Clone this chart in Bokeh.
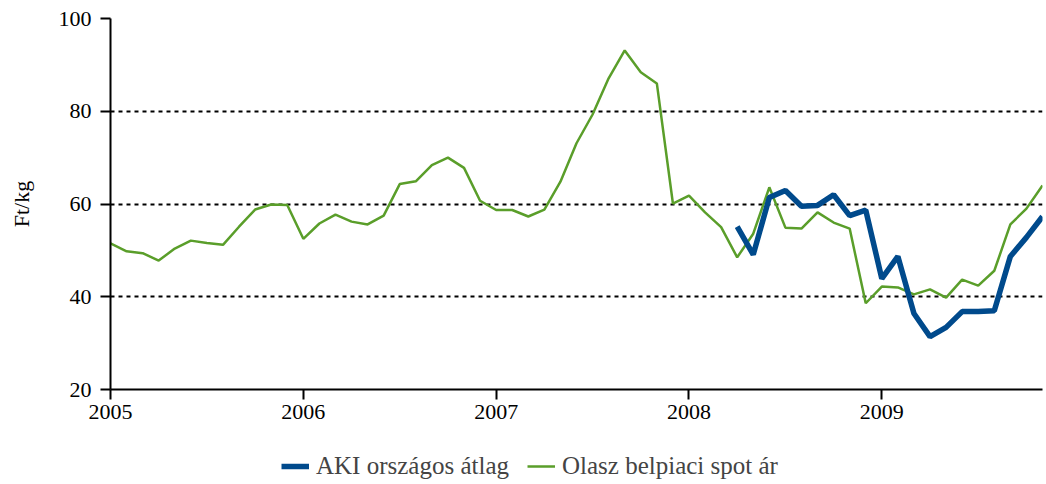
from bokeh.plotting import figure
from bokeh.layouts import column
from bokeh.models import Range1d, FixedTicker, Legend, LegendItem
from bokeh.embed import file_html
from bokeh.resources import INLINE

start_year = 2005
# monthly, Jan 2005 .. Nov 2009
green_vals = [51.5, 49.8, 49.4, 47.8, 50.4, 52.1, 51.6, 51.2, 55.1, 58.8, 59.9, 59.8,
              52.5, 55.8, 57.7, 56.2, 55.6, 57.5, 64.3, 64.9, 68.4, 70.0, 67.8, 60.7,
              58.7, 58.7, 57.3, 58.8, 64.8, 73.1, 79.3, 87.1, 93.1, 88.4, 86.0, 60.1,
              61.8, 58.2, 55.0, 48.5, 53.6, 63.6, 54.9, 54.7, 58.2, 56.0, 54.7, 38.6,
              42.2, 42.0, 40.5, 41.6, 39.8, 43.7, 42.4, 45.6, 55.6, 59.0, 64.0]
blue_start_index = 39  # Apr 2008
blue_vals = [55.1, 49.1, 61.4, 62.9, 59.5, 59.7, 62.0, 57.5, 58.7, 43.9,
             48.7, 36.4, 31.4, 33.4, 36.8, 36.8, 37.0, 48.7, 52.8, 57.3]
year_ticks = [2005, 2006, 2007, 2008, 2009]
y_ticks = [20, 40, 60, 80, 100]
series_names = ["AKI országos átlag", "Olasz belpiaci spot ár"]

green_x = [start_year + i / 12 for i in range(len(green_vals))]
blue_x = [start_year + (blue_start_index + i) / 12 for i in range(len(blue_vals))]

FONT = "Liberation Serif"
BLUE = "#004a8c"
GREEN = "#5a9e2a"
GREEN_W = 2.5
BLUE_W = 5.5

p = figure(width=1046, height=432, output_backend="svg", toolbar_location=None,
           x_range=Range1d(start_year, green_x[-1]), y_range=Range1d(20, 100),
           min_border_left=110, min_border_right=4, min_border_top=18,
           min_border_bottom=43)
p.outline_line_color = None
p.background_fill_color = "white"

p.xgrid.grid_line_color = None
p.ygrid.grid_line_color = "black"
p.ygrid.grid_line_width = 2
p.ygrid.grid_line_dash = "4 4"

p.xaxis.ticker = FixedTicker(ticks=year_ticks)
p.yaxis.ticker = FixedTicker(ticks=y_ticks)
p.xaxis.major_label_overrides = {y: str(y) for y in year_ticks}
for ax in (p.xaxis, p.yaxis):
    ax.axis_line_width = 2
    ax.axis_line_color = "black"
    ax.major_tick_line_width = 2
    ax.major_tick_line_color = "black"
    ax.major_tick_in = 0
    ax.major_tick_out = 10
    ax.minor_tick_line_color = None
    ax.major_label_text_font = FONT
    ax.major_label_text_font_size = "22px"
    ax.major_label_text_color = "black"
p.xaxis.major_label_standoff = 5
p.yaxis.major_label_standoff = 9
p.yaxis.axis_label = "Ft/kg"
p.yaxis.axis_label_text_font = FONT
p.yaxis.axis_label_text_font_size = "22px"
p.yaxis.axis_label_text_font_style = "normal"
p.yaxis.axis_label_text_color = "black"
p.yaxis.axis_label_standoff = 22

p.line(green_x, green_vals, line_color=GREEN, line_width=GREEN_W)
p.line(blue_x, blue_vals, line_color=BLUE, line_width=BLUE_W)

# legend strip below the chart
lp = figure(width=1046, height=50, output_backend="svg", toolbar_location=None,
            x_range=Range1d(0, 1), y_range=Range1d(0, 1),
            x_axis_location=None, y_axis_location=None,
            min_border_left=0, min_border_right=0, min_border_top=0, min_border_bottom=0)
lp.grid.visible = False
lp.outline_line_color = None
nan = float("nan")
lb = lp.line([nan], [nan], line_color=BLUE, line_width=BLUE_W)
lg = lp.line([nan], [nan], line_color=GREEN, line_width=GREEN_W)
leg = Legend(items=[LegendItem(label=series_names[0], renderers=[lb]),
                    LegendItem(label=series_names[1], renderers=[lg])],
             location=(171, 2), orientation="horizontal", border_line_color=None,
             background_fill_alpha=0, padding=0, margin=0, spacing=18,
             glyph_width=28, glyph_height=20, label_standoff=7,
             label_text_font=FONT, label_text_font_size="25px")
lp.add_layout(leg, "center")

open("out.html", "w").write(file_html(column(p, lp, spacing=0), INLINE))
